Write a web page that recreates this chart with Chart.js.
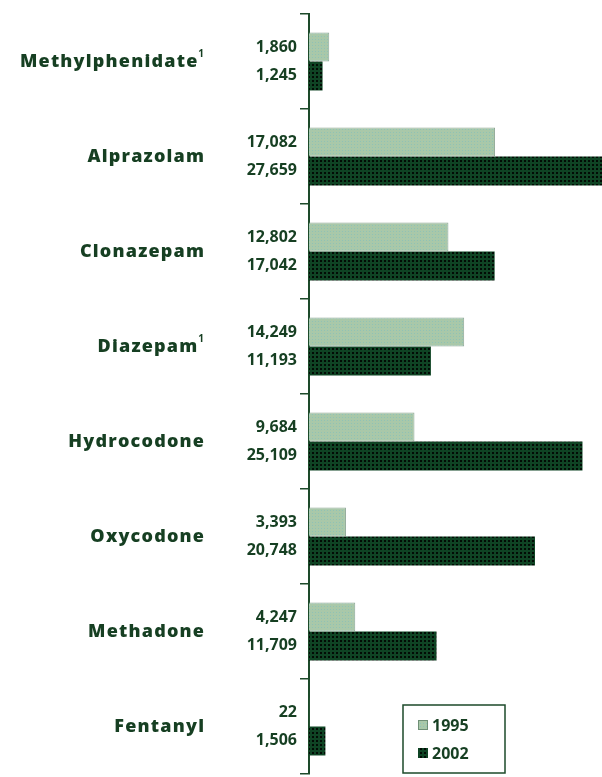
<!DOCTYPE html>
<html>
<head>
<meta charset="utf-8">
<script src="https://cdn.jsdelivr.net/npm/chart.js@4/dist/chart.umd.min.js"></script>
<style>
  html, body { margin: 0; padding: 0; background: #fff; }
  #wrap { width: 602px; height: 777px; }
</style>
</head>
<body>
<div id="wrap"><canvas id="c" width="602" height="777"></canvas></div>
<script>
// Drug names and their footnote markers
const drugs = ['Methylphenidate', 'Alprazolam', 'Clonazepam', 'Diazepam', 'Hydrocodone', 'Oxycodone', 'Methadone', 'Fentanyl'];
const footnotes = ['1', '', '', '1', '', '', '', ''];
// Values for each year
const values1995 = [1860, 17082, 12802, 14249, 9684, 3393, 4247, 22];
const values2002 = [1245, 27659, 17042, 11193, 25109, 20748, 11709, 1506];
const seriesYears = ['1995', '2002'];

const TEXT = '#163f22';
const FONT = '"Open Sans", sans-serif';
const NAME_FONT = '800 18px ' + FONT;
const NAME_SPACING = 1.2;
const VALUE_FONT = '700 16px ' + FONT;

// Small tiled fills that give the bars their screened look
function makePattern(base, dot, step, dotSize) {
  const p = document.createElement('canvas');
  p.width = step; p.height = step;
  const g = p.getContext('2d');
  g.fillStyle = base;
  g.fillRect(0, 0, step, step);
  g.fillStyle = dot;
  g.fillRect(0, 0, dotSize, dotSize);
  return g.createPattern(p, 'repeat');
}
const ctx0 = document.getElementById('c').getContext('2d');
const lightFill = makePattern('#a9c8a9', '#8fc2b6', 3, 1);
const darkFill = makePattern('#0f4424', '#020c05', 4, 2);

const fmt = v => v.toLocaleString('en-US');

// Category names, value labels and the legend box
const labelPlugin = {
  id: 'labels',
  afterDatasetsDraw(chart) {
    const ctx = chart.ctx;
    const y = chart.scales.y;
    const area = chart.chartArea;
    ctx.save();
    ctx.fillStyle = TEXT;
    ctx.textBaseline = 'middle';
    drugs.forEach((name, i) => {
      const cy = y.getPixelForValue(i);
      // category name, right-aligned, with optional superscript
      ctx.letterSpacing = NAME_SPACING + 'px';
      ctx.font = NAME_FONT;
      const wMain = ctx.measureText(name).width - NAME_SPACING;
      ctx.letterSpacing = '0px';
      let wSup = 0;
      if (footnotes[i]) {
        ctx.font = '700 10px ' + FONT;
        wSup = ctx.measureText(footnotes[i]).width + 1;
      }
      const right = area.left - 105;
      ctx.textAlign = 'left';
      ctx.letterSpacing = NAME_SPACING + 'px';
      ctx.font = NAME_FONT;
      ctx.fillText(name, right - wMain - wSup, cy);
      ctx.letterSpacing = '0px';
      if (footnotes[i]) {
        ctx.font = '700 10px ' + FONT;
        ctx.fillText(footnotes[i], right - wSup + 1, cy - 7);
      }
      // the two values
      ctx.textAlign = 'right';
      ctx.font = VALUE_FONT;
      ctx.fillText(fmt(values1995[i]), area.left - 12, cy - 14);
      ctx.fillText(fmt(values2002[i]), area.left - 12, cy + 14);
    });

    // legend
    const bx = area.left + 94, by = area.bottom - 69, bw = 102, bh = 68;
    ctx.strokeStyle = '#1d4a2a';
    ctx.lineWidth = 1.5;
    ctx.strokeRect(bx, by, bw, bh);
    const fills = [lightFill, darkFill];
    seriesYears.forEach((yr, k) => {
      const ly = by + 20 + k * 28;
      ctx.fillStyle = fills[k];
      ctx.fillRect(bx + 15, ly - 5, 10, 10);
      if (k === 0) {
        ctx.strokeStyle = '#6f8f76';
        ctx.lineWidth = 1;
        ctx.strokeRect(bx + 15.5, ly - 4.5, 9, 9);
      }
      ctx.fillStyle = TEXT;
      ctx.textAlign = 'left';
      ctx.font = VALUE_FONT;
      ctx.fillText(yr, bx + 29, ly + 1);
    });
    ctx.restore();
  }
};

new Chart(ctx0, {
  type: 'bar',
  data: {
    labels: drugs,
    datasets: [
      { label: seriesYears[0], data: values1995, backgroundColor: lightFill, borderColor: '#8ea795', borderWidth: 1, borderSkipped: 'left' },
      { label: seriesYears[1], data: values2002, backgroundColor: darkFill, borderWidth: 0 }
    ]
  },
  options: {
    indexAxis: 'y',
    responsive: false,
    animation: false,
    devicePixelRatio: 1,
    layout: { padding: { left: 300, right: 0, top: 14, bottom: 3 } },
    datasets: { bar: { categoryPercentage: 0.61, barPercentage: 1 } },
    plugins: { legend: { display: false }, tooltip: { enabled: false } },
    scales: {
      x: { display: false, min: 0, max: 26900 },
      y: {
        ticks: { display: false },
        grid: { drawOnChartArea: false, drawTicks: true, tickLength: 9, color: '#1d4a2a', lineWidth: 1.5 },
        border: { display: true, color: '#1d4a2a', width: 2 }
      }
    }
  },
  plugins: [labelPlugin]
});
</script>
</body>
</html>
